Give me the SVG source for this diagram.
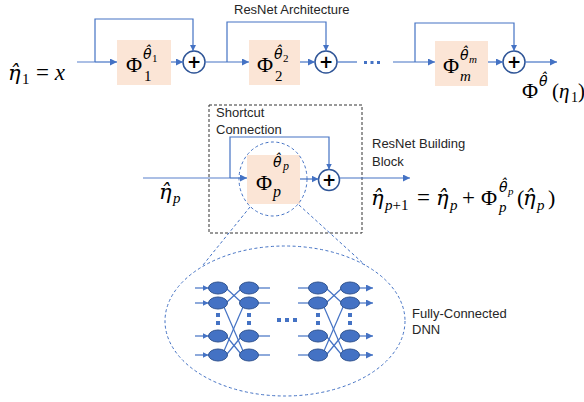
<svg xmlns="http://www.w3.org/2000/svg" width="584" height="402" viewBox="0 0 584 402">
<defs>
<marker id="ah" viewBox="0 0 10 10" refX="10" refY="5" markerWidth="7" markerHeight="7" markerUnits="userSpaceOnUse" orient="auto">
<path d="M0,0 L10,5 L0,10 z" fill="#4472C4"/>
</marker>
<marker id="ahs" viewBox="0 0 10 10" refX="10" refY="5" markerWidth="6" markerHeight="6" markerUnits="userSpaceOnUse" orient="auto">
<path d="M0,0 L10,5 L0,10 z" fill="#4472C4"/>
</marker>
</defs>
<style>
.ln{fill:none;stroke:#4472C4;stroke-width:1.2}
.lt{fill:none;stroke:#8FAADC;stroke-width:1.5}
.box{fill:#FBE5D6}
.sum{fill:#fff;stroke:#2F5597;stroke-width:1.5}
.plus{font-family:"DejaVu Sans",sans-serif;font-size:17px;font-weight:bold;fill:#000;text-anchor:middle}
.lbl{font-family:"Liberation Sans",Arial,sans-serif;font-size:13px;fill:#262626}
.m{font-family:"Liberation Serif","DejaVu Serif",serif;fill:#000}
.i{font-style:italic}
.n{font-style:normal}
.eta{font-family:"DejaVu Serif",serif;font-style:italic;font-size:21px}
.th{font-family:"DejaVu Sans",sans-serif;font-style:oblique;font-size:14px}
.dash{fill:none;stroke:#4472C4;stroke-width:1;stroke-dasharray:3,2.5}
.node{fill:#4472C4;stroke:#2F528F;stroke-width:1}
.dot{fill:#4472C4}
</style>

<text class="lbl" x="234" y="14">ResNet Architecture</text>

<g id="input-label">
<text class="m"><tspan class="eta" x="8" y="80">η̂</tspan><tspan x="22" y="84" font-size="15">1</tspan><tspan x="36" y="80" font-size="23">= <tspan class="i">x</tspan></tspan></text>
</g>

<g id="block1">
<rect class="box" x="117" y="40" width="54" height="45"/>
<text class="m"><tspan x="126" y="72" font-size="22">Φ</tspan><tspan class="th" x="143" y="59">θ̂</tspan><tspan x="152" y="62" font-size="11">1</tspan><tspan x="144" y="81" font-size="15">1</tspan></text>
</g>
<g id="sum1"><circle class="sum" cx="194" cy="62" r="11"/><text class="plus" x="194" y="68">+</text></g>

<g id="block2">
<rect class="box" x="249" y="40" width="51" height="45"/>
<text class="m"><tspan x="257" y="72" font-size="22">Φ</tspan><tspan class="th" x="274" y="59">θ̂</tspan><tspan x="283" y="62" font-size="11">2</tspan><tspan x="275" y="81" font-size="15">2</tspan></text>
</g>
<g id="sum2"><circle class="sum" cx="326" cy="62" r="11"/><text class="plus" x="326" y="68">+</text></g>

<g id="dots-top">
<rect class="dot" x="364" y="61" width="3" height="3"/>
<rect class="dot" x="370.5" y="61" width="3" height="3"/>
<rect class="dot" x="377" y="61" width="3" height="3"/>
</g>

<g id="blockm">
<rect class="box" x="435" y="41" width="53" height="45"/>
<text class="m"><tspan x="443" y="73" font-size="22">Φ</tspan><tspan class="th" x="460" y="60">θ̂</tspan><tspan class="i" x="469" y="63" font-size="11">m</tspan><tspan class="i" x="460" y="81" font-size="15">m</tspan></text>
</g>
<g id="summ"><circle class="sum" cx="514" cy="62" r="11"/><text class="plus" x="514" y="68">+</text></g>

<g id="output-label">
<text class="m"><tspan x="522" y="98" font-size="22">Φ</tspan><tspan class="th" x="539" y="86">θ̂</tspan><tspan x="552" y="98" font-size="21">(<tspan class="i">η</tspan></tspan><tspan x="571" y="102" font-size="14">1</tspan><tspan x="578" y="98" font-size="21">)</tspan></text>
</g>

<g id="connectors-top">
<line class="lt" x1="77" y1="62" x2="95" y2="62"/>
<line class="ln" x1="95" y1="62" x2="117" y2="62" marker-end="url(#ah)"/>
<polyline class="ln" points="95,62 95,19 193,19 193,51" marker-end="url(#ahs)"/>
<line class="ln" x1="171" y1="62" x2="183" y2="62" marker-end="url(#ah)"/>
<line class="ln" x1="205" y1="62" x2="249" y2="62" marker-end="url(#ah)"/>
<polyline class="ln" points="227,62 227,22 326,22 326,51" marker-end="url(#ahs)"/>
<line class="ln" x1="300" y1="62" x2="315" y2="62" marker-end="url(#ah)"/>
<line class="ln" x1="337" y1="62" x2="357" y2="62"/>
<line class="ln" x1="393" y1="62" x2="435" y2="62" marker-end="url(#ah)"/>
<polyline class="ln" points="415,62 415,23 514,23 514,51" marker-end="url(#ahs)"/>
<line class="ln" x1="488" y1="62" x2="503" y2="62" marker-end="url(#ah)"/>
<line class="ln" x1="525" y1="62" x2="557" y2="62" marker-end="url(#ah)"/>
</g>

<g id="building-block">
<rect x="209" y="105" width="153" height="128" fill="none" stroke="#333" stroke-width="1" stroke-dasharray="3,2"/>
<text class="lbl" x="216" y="117">Shortcut</text>
<text class="lbl" x="216" y="134">Connection</text>
</g>

<g id="blockp">
<rect class="box" x="247" y="155" width="53" height="49"/>
<text class="m"><tspan x="256" y="190" font-size="22">Φ</tspan><tspan class="th" x="273" y="167" font-size="15">θ̂</tspan><tspan class="i" x="283" y="170" font-size="12">p</tspan><tspan class="i" x="273" y="197" font-size="16">p</tspan></text>
</g>
<g id="sump"><circle class="sum" cx="329" cy="180" r="10.5"/><text class="plus" x="329" y="186">+</text></g>

<g id="etap-label">
<text class="m"><tspan class="eta" x="159" y="199">η̂</tspan><tspan class="i" x="173" y="203" font-size="15">p</tspan></text>
</g>

<text class="lbl" x="372" y="148">ResNet Building</text>
<text class="lbl" x="372" y="166">Block</text>

<g id="equation">
<text class="m"><tspan class="eta" x="371" y="205">η̂</tspan><tspan class="i" x="385" y="210" font-size="15">p<tspan class="n">+1</tspan></tspan><tspan x="417" y="205" font-size="23">=</tspan><tspan class="eta" x="436" y="205">η̂</tspan><tspan class="i" x="450" y="210" font-size="15">p</tspan><tspan x="462" y="205" font-size="23">+</tspan><tspan x="481" y="205" font-size="22">Φ</tspan><tspan class="th" x="499" y="192">θ̂</tspan><tspan class="i" x="508" y="195" font-size="11">p</tspan><tspan class="i" x="499" y="212" font-size="15">p</tspan><tspan x="517" y="205" font-size="22">(</tspan><tspan class="eta" x="523" y="205">η̂</tspan><tspan class="i" x="537" y="210" font-size="15">p</tspan><tspan x="548" y="205" font-size="22">)</tspan></text>
</g>

<g id="connectors-mid">
<line class="lt" x1="143" y1="178" x2="230" y2="178"/>
<line class="ln" x1="230" y1="178" x2="247" y2="178" marker-end="url(#ah)"/>
<polyline class="ln" points="230,178 230,137 329,137 329,169.5" marker-end="url(#ahs)"/>
<line class="ln" x1="300" y1="179" x2="318.5" y2="179" marker-end="url(#ah)"/>
<line class="ln" x1="339.5" y1="178" x2="410" y2="178" marker-end="url(#ah)"/>
<ellipse class="dash" cx="273" cy="179" rx="34" ry="37"/>
<line class="dash" x1="250" y1="207" x2="203" y2="265"/>
<line class="dash" x1="299" y1="205" x2="365" y2="265"/>
</g>

<g id="dnn">
<ellipse class="dash" cx="285" cy="321" rx="120" ry="75"/>
<g id="dnn-links">
<line class="ln" x1="195" y1="288" x2="208.5" y2="288" marker-end="url(#ahs)"/>
<line class="ln" x1="195" y1="303" x2="208.5" y2="303" marker-end="url(#ahs)"/>
<line class="ln" x1="195" y1="336" x2="208.5" y2="336" marker-end="url(#ahs)"/>
<line class="ln" x1="195" y1="355" x2="208.5" y2="355" marker-end="url(#ahs)"/>
<line class="ln" x1="227" y1="289" x2="241" y2="302"/>
<line class="ln" x1="227" y1="302" x2="241" y2="289"/>
<line class="ln" x1="227" y1="337" x2="241" y2="354"/>
<line class="ln" x1="227" y1="354" x2="241" y2="337"/>
<line class="ln" x1="224" y1="307" x2="243" y2="351"/>
<line class="ln" x1="224" y1="351" x2="243" y2="307"/>
<line class="ln" x1="258.5" y1="288" x2="270" y2="288"/>
<line class="ln" x1="258.5" y1="303" x2="270" y2="303"/>
<line class="ln" x1="258.5" y1="336" x2="270" y2="336"/>
<line class="ln" x1="258.5" y1="355" x2="270" y2="355"/>
<line class="ln" x1="298" y1="288" x2="308.5" y2="288"/>
<line class="ln" x1="298" y1="303" x2="308.5" y2="303"/>
<line class="ln" x1="298" y1="336" x2="308.5" y2="336"/>
<line class="ln" x1="298" y1="355" x2="308.5" y2="355"/>
<line class="ln" x1="327" y1="289" x2="341" y2="302"/>
<line class="ln" x1="327" y1="302" x2="341" y2="289"/>
<line class="ln" x1="327" y1="337" x2="341" y2="354"/>
<line class="ln" x1="327" y1="354" x2="341" y2="337"/>
<line class="ln" x1="324" y1="307" x2="343" y2="351"/>
<line class="ln" x1="324" y1="351" x2="343" y2="307"/>
<line class="ln" x1="359.5" y1="288" x2="373" y2="288" marker-end="url(#ah)"/>
<line class="ln" x1="359.5" y1="303" x2="373" y2="303" marker-end="url(#ah)"/>
<line class="ln" x1="359.5" y1="336" x2="373" y2="336" marker-end="url(#ah)"/>
<line class="ln" x1="359.5" y1="355" x2="373" y2="355" marker-end="url(#ah)"/>
</g>
<g id="dnn-nodes">
<ellipse class="node" cx="218" cy="288" rx="9.5" ry="6"/>
<ellipse class="node" cx="218" cy="303" rx="9.5" ry="6"/>
<ellipse class="node" cx="218" cy="336" rx="9.5" ry="6"/>
<ellipse class="node" cx="218" cy="355" rx="9.5" ry="6"/>
<ellipse class="node" cx="249" cy="288" rx="9.5" ry="6"/>
<ellipse class="node" cx="249" cy="303" rx="9.5" ry="6"/>
<ellipse class="node" cx="249" cy="336" rx="9.5" ry="6"/>
<ellipse class="node" cx="249" cy="355" rx="9.5" ry="6"/>
<ellipse class="node" cx="318" cy="288" rx="9.5" ry="6"/>
<ellipse class="node" cx="318" cy="303" rx="9.5" ry="6"/>
<ellipse class="node" cx="318" cy="336" rx="9.5" ry="6"/>
<ellipse class="node" cx="318" cy="355" rx="9.5" ry="6"/>
<ellipse class="node" cx="350" cy="288" rx="9.5" ry="6"/>
<ellipse class="node" cx="350" cy="303" rx="9.5" ry="6"/>
<ellipse class="node" cx="350" cy="336" rx="9.5" ry="6"/>
<ellipse class="node" cx="350" cy="355" rx="9.5" ry="6"/>
</g>
<g id="dnn-dots">
<rect class="dot" x="216" y="313" width="4" height="4"/>
<rect class="dot" x="216" y="321" width="4" height="4"/>
<rect class="dot" x="247" y="313" width="4" height="4"/>
<rect class="dot" x="247" y="321" width="4" height="4"/>
<rect class="dot" x="316" y="313" width="4" height="4"/>
<rect class="dot" x="316" y="321" width="4" height="4"/>
<rect class="dot" x="348" y="313" width="4" height="4"/>
<rect class="dot" x="348" y="321" width="4" height="4"/>
<rect class="dot" x="277" y="318" width="4" height="4"/>
<rect class="dot" x="285" y="318" width="4" height="4"/>
<rect class="dot" x="293" y="318" width="4" height="4"/>
</g>
</g>

<text class="lbl" x="412" y="318">Fully-Connected</text>
<text class="lbl" x="412" y="334">DNN</text>
</svg>
